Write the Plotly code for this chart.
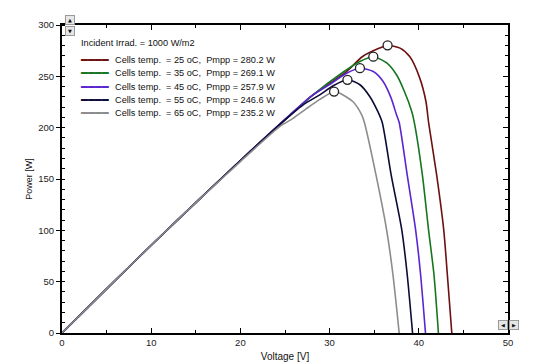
import plotly.graph_objects as go

# ---------------- data ----------------
temps = [25, 35, 45, 55, 65]
pmpp = [280.2, 269.1, 257.9, 246.6, 235.2]
vmpp = [36.5, 34.9, 33.4, 32.0, 30.5]
irrad = 1000

v_25 = [0, 5, 10, 15, 20, 24.4, 28, 31.9, 33.7, 35.6, 36.5, 37.9, 39.0, 40.1, 40.8, 41.1, 42.0, 42.8, 43.2, 43.7]
p_25 = [0, 43, 85.5, 127, 168, 203, 231, 254.7, 269.3, 277.5, 280.2, 277.5, 269, 248.5, 225.5, 205, 154, 100, 57, 0]

v_35 = [0, 5, 10, 15, 20, 24.4, 28, 31.5, 33.4, 34.9, 36.4, 37.5, 38.4, 39.2, 39.5, 40.4, 41.1, 41.7, 42.2]
p_35 = [0, 43, 85.5, 127, 168, 203, 231, 254, 264.5, 269.1, 263, 251.5, 235, 216, 205, 154, 100, 57, 0]

v_45 = [0, 5, 10, 15, 20, 24.4, 28, 30, 31.9, 33.4, 34.9, 36.0, 36.9, 37.5, 37.8, 38.7, 39.65, 40.2, 40.75]
p_45 = [0, 43, 85.5, 127, 168, 203.5, 231, 242, 253, 257.9, 254.7, 245, 228.8, 212.5, 205, 154, 100, 57, 0]

v_55 = [0, 5, 10, 15, 20, 24.4, 27, 28.9, 30.4, 32.0, 33.4, 34.5, 35.4, 35.9, 36.9, 38.1, 38.7, 39.3]
p_55 = [0, 43, 85.5, 127, 168, 203, 222, 232, 240.8, 246.6, 241.8, 230.4, 215.8, 205, 154, 100, 57, 0]

v_65 = [0, 5, 10, 15, 20, 24.4, 25.9, 27.4, 28.9, 30.5, 31.1, 32.6, 33.6, 33.9, 35.2, 36.4, 37.1, 37.8]
p_65 = [0, 43, 85.5, 127, 167, 201, 209, 218.5, 227.5, 235.2, 233.7, 225.5, 212.5, 205, 154, 100, 57, 0]

x_ticks = [0, 10, 20, 30, 40, 50]
y_ticks = [0, 50, 100, 150, 200, 250, 300]

# ---------------- styling ----------------
colors = ["#6e1010", "#16761f", "#5a26d0", "#0b0b38", "#8c8c8c"]
FONT = "Liberation Sans, Arial, sans-serif"
W, H = 547, 364
L, R, T, B = 62, 39, 25, 31

series_v = [v_25, v_35, v_45, v_55, v_65]
series_p = [p_25, p_35, p_45, p_55, p_65]

fig = go.Figure()
for v, p, c, t in zip(series_v, series_p, colors, temps):
    fig.add_trace(go.Scatter(
        x=v, y=p, mode="lines", line=dict(color=c, width=1.6, shape="spline", smoothing=0.7),
        name=f"{t} oC", showlegend=False, hoverinfo="skip"))

fig.add_trace(go.Scatter(
    x=vmpp, y=pmpp, mode="markers",
    marker=dict(size=9, color="white", line=dict(color="#222222", width=1.3)),
    showlegend=False, hoverinfo="skip"))

# trace that carries the right-hand mirrored axis
fig.add_trace(go.Scatter(x=v_25, y=p_25, yaxis="y2", mode="none",
                         showlegend=False, hoverinfo="skip"))

def px2paper(px, py):
    return (px - L) / (W - L - R), (H - B - py) / (H - T - B)

annotations = []
# legend title
tx, ty = px2paper(79, 42.7)
annotations.append(dict(x=tx, y=ty, xref="paper", yref="paper", xanchor="left", yanchor="middle",
                        text=f"Incident Irrad. = {irrad} W/m2", showarrow=False,
                        font=dict(family=FONT, size=9.2, color="#111111")))
row_y = [60, 73.3, 86.6, 99.9, 113.2]
for t, p, c, ry in zip(temps, pmpp, colors, row_y):
    sx, sy = px2paper(78, ry)
    annotations.append(dict(x=sx, y=sy, xref="paper", yref="paper", xanchor="left", yanchor="middle",
                            text="━━━━", showarrow=False,
                            font=dict(family="DejaVu Sans", size=11.5, color=c)))
    lx, ly = px2paper(113, ry)
    annotations.append(dict(x=lx, y=ly, xref="paper", yref="paper", xanchor="left", yanchor="middle",
                            text=f"Cells temp.\u00a0 = {t} oC,\u00a0 Pmpp = {p:.1f} W", showarrow=False,
                            font=dict(family=FONT, size=9.2, color="#111111")))

# little scroll buttons of the original software
for sym, (bx, by) in [("▲", (69.5, 20)), ("▼", (69.5, 31)), ("◀", (502.5, 325)), ("▶", (514, 325))]:
    ax_, ay_ = px2paper(bx, by)
    annotations.append(dict(x=ax_, y=ay_, xref="paper", yref="paper", xanchor="center", yanchor="middle",
                            text=sym, showarrow=False, width=8, height=8, borderpad=0,
                            bgcolor="#e6e6e6", bordercolor="#9a9a9a", borderwidth=1,
                            font=dict(family="DejaVu Sans", size=5, color="#111111")))

fig.update_layout(
    width=W, height=H,
    margin=dict(l=L, r=R, t=T, b=B, pad=0, autoexpand=False),
    paper_bgcolor="white", plot_bgcolor="white",
    font=dict(family=FONT, size=9, color="#222222"),
    annotations=annotations,
    xaxis=dict(range=[0, 50], tickvals=x_ticks, showgrid=False, zeroline=False, automargin=False,
               showline=True, linecolor="black", linewidth=2, mirror="ticks",
               ticks="inside", ticklen=5, tickwidth=1, tickcolor="black",
               minor=dict(dtick=5, ticks="inside", ticklen=3, tickcolor="black"),
               tickfont=dict(size=9.5, color="#222222"),
               title=dict(text="Voltage [V]", font=dict(size=10, color="#111111"), standoff=6)),
    yaxis=dict(range=[0, 300], tickvals=y_ticks, showgrid=False, zeroline=False, automargin=False,
               showline=True, linecolor="black", linewidth=2,
               ticks="outside", ticklen=4, tickwidth=1, tickcolor="black",
               minor=dict(dtick=10, ticks="inside", ticklen=3, tickcolor="black"),
               tickfont=dict(size=9.5, color="#222222"),
               title=dict(text="Power [W]", font=dict(size=9, color="#111111"), standoff=4)),
    yaxis2=dict(range=[0, 300], overlaying="y", side="right", tickvals=y_ticks, automargin=False,
                showgrid=False, zeroline=False, showticklabels=False,
                showline=True, linecolor="black", linewidth=2,
                ticks="inside", ticklen=5, tickcolor="black",
                minor=dict(dtick=10, ticks="inside", ticklen=3, tickcolor="black")),
)

fig.write_html("out.html", config={"displayModeBar": False},
               post_script="document.body.style.margin='0';document.body.style.padding='0';")
